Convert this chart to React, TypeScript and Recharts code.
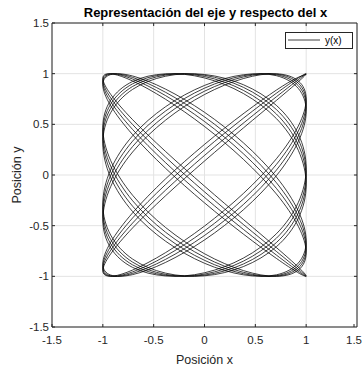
import { ComposedChart, Line, XAxis, YAxis, CartesianGrid, Label, ReferenceLine } from "recharts";

const TICKS = [-1.5, -1, -0.5, 0, 0.5, 1, 1.5];

// Posición x de la trayectoria (muestreo cada 45° de la fase en x)
const posX = [
  1, 0.707, 0, -0.707, -1, -0.707, 0, 0.707,
  1, 0.707, 0, -0.707, -1, -0.707, 0, 0.707,
  1, 0.707, 0, -0.707, -1, -0.707, 0, 0.707,
  1, 0.707, 0, -0.707, -1, -0.707, 0, 0.707,
  1, 0.707, 0, -0.707, -1, -0.707, 0, 0.707,
  1, 0.707, 0, -0.707, -1, -0.707, 0, 0.707,
  1, 0.707, 0, -0.707, -1, -0.707, 0, 0.707,
  1, 0.707, 0, -0.707, -1, -0.707, 0, 0.707,
  1, 0.707, 0, -0.707, -1, -0.707, 0, 0.707,
  1, 0.707, 0, -0.707, -1, -0.707, 0, 0.707,
  1, 0.707, 0, -0.707, -1, -0.707, 0, 0.707,
  1, 0.707, 0, -0.707, -1, -0.707, 0, 0.707,
  1, 0.707, 0, -0.707, -1, -0.707, 0, 0.707,
  1, 0.707, 0, -0.707, -1, -0.707, 0, 0.707,
  1, 0.707, 0, -0.707, -1, -0.707, 0, 0.707,
  1, 0.707, 0, -0.707, -1, -0.707, 0, 0.707,
  1,
];

// Posición y en los mismos instantes
const posY = [
  1, 0.772, 0.193, -0.474, -0.925, -0.956, -0.551, 0.104,
  0.712, 0.996, 0.827, 0.281, -0.392, -0.887, -0.978, -0.624,
  0.014, 0.646, 0.984, 0.874, 0.367, -0.308, -0.842, -0.993,
  -0.692, -0.076, 0.574, 0.963, 0.914, 0.449, -0.221, -0.79,
  -1, -0.754, -0.166, 0.498, 0.935, 0.947, 0.528, -0.132,
  -0.731, -0.998, -0.811, -0.254, 0.418, 0.9, 0.972, 0.602,
  -0.042, -0.667, -0.988, -0.86, -0.34, 0.334, 0.857, 0.989,
  0.672, 0.048, -0.597, -0.971, -0.903, -0.424, 0.248, 0.807,
  0.998, 0.736, 0.138, -0.522, -0.945, -0.938, -0.504, 0.16,
  0.75, 0.999, 0.794, 0.227, -0.443, -0.912, -0.965, -0.58,
  0.07, 0.687, 0.992, 0.845, 0.314, -0.361, -0.871, -0.985,
  -0.651, -0.02, 0.619, 0.977, 0.89, 0.398, -0.275, -0.823,
  -0.996, -0.716, -0.11, 0.546, 0.954, 0.928, 0.479, -0.187,
  -0.768, -1, -0.777, -0.2, 0.468, 0.923, 0.958, 0.557,
  -0.098, -0.708, -0.995, -0.83, -0.287, 0.387, 0.884, 0.98,
  0.629, -0.007, -0.641, -0.983, -0.877, -0.373, 0.302, 0.838,
  0.994,
];

const trayectoria = posX.map((x, i) => ({ x, y: posY[i] }));

const FONT = "'Liberation Sans', Helvetica, Arial, sans-serif";
const INK = "#262626";

const fmt = (v: number) => String(v);

// marcas hacia dentro, estilo MATLAB
function XTick({ x, y, payload }: any) {
  return (
    <g>
      <line x1={x} x2={x} y1={y} y2={y - 3} stroke={INK} />
      <text x={x} y={y + 17} textAnchor="middle" fontSize={11.5} fill={INK} fontFamily={FONT}>
        {fmt(payload.value)}
      </text>
    </g>
  );
}

function YTick({ x, y, payload }: any) {
  return (
    <g>
      <line x1={x} x2={x + 3} y1={y} y2={y} stroke={INK} />
      <text x={x - 3} y={y + 4} textAnchor="end" fontSize={11.5} fill={INK} fontFamily={FONT}>
        {fmt(payload.value)}
      </text>
    </g>
  );
}

function EtiquetaX({ viewBox }: any) {
  const { x, y, width } = viewBox;
  return (
    <text x={x + width / 2} y={y + 36.5} textAnchor="middle" fontSize={12.5} fill={INK} fontFamily={FONT}>
      Posición x
    </text>
  );
}

function EtiquetaY({ viewBox }: any) {
  const { y, height } = viewBox;
  const cy = y + height / 2;
  return (
    <text x={21} y={cy} transform={`rotate(-90, 21, ${cy})`} textAnchor="middle" fontSize={12.5} fill={INK} fontFamily={FONT}>
      Posición y
    </text>
  );
}

export default function App() {
  return (
    <div style={{ position: "absolute", left: 0, top: 0, width: 364, height: 368, background: "#fff" }}>
      <ComposedChart width={364} height={368} margin={{ top: 23, right: 7, bottom: 0, left: 0 }}>
        <CartesianGrid stroke="#e3e3e3" />
        <XAxis
          type="number"
          dataKey="x"
          domain={[-1.5, 1.5]}
          ticks={TICKS}
          height={41}
          tickSize={0}
          tickMargin={0}
          tick={<XTick />}
          axisLine={{ stroke: INK }}
          allowDataOverflow
        >
          <Label content={EtiquetaX as any} />
        </XAxis>
        <YAxis
          type="number"
          dataKey="y"
          domain={[-1.5, 1.5]}
          ticks={TICKS}
          width={52}
          tickSize={0}
          tickMargin={0}
          tick={<YTick />}
          axisLine={{ stroke: INK }}
          allowDataOverflow
        >
          <Label content={EtiquetaY as any} />
        </YAxis>

        {/* caja superior y derecha con sus marcas */}
        <ReferenceLine y={1.5} stroke={INK} />
        <ReferenceLine x={1.5} stroke={INK} />
        {TICKS.slice(1, -1).map((v) => (
          <ReferenceLine key={`t${v}`} segment={[{ x: v, y: 1.5 }, { x: v, y: 1.47 }]} stroke={INK} />
        ))}
        {TICKS.slice(1, -1).map((v) => (
          <ReferenceLine key={`r${v}`} segment={[{ x: 1.5, y: v }, { x: 1.47, y: v }]} stroke={INK} />
        ))}

        <Line
          data={trayectoria}
          dataKey="y"
          type="natural"
          stroke="#000"
          strokeWidth={0.75}
          dot={false}
          isAnimationActive={false}
        />
      </ComposedChart>

      {/* título */}
      <svg
        width={364}
        height={23}
        style={{ position: "absolute", left: 0, top: 0, pointerEvents: "none" }}
      >
        <text x={205.5} y={16.5} textAnchor="middle" fontSize={13} fontWeight="bold" fill="#000" fontFamily={FONT}>
          Representación del eje y respecto del x
        </text>
      </svg>

      {/* leyenda */}
      <div
        style={{
          position: "absolute",
          left: 285,
          top: 32,
          width: 68,
          height: 17,
          boxSizing: "border-box",
          border: `1px solid ${INK}`,
          background: "#fff",
        }}
      >
        <svg width={66} height={15} style={{ display: "block" }}>
          <line x1={2} x2={34} y1={7} y2={7} stroke="#000" strokeWidth={0.75} />
          <text x={39} y={10.5} fontSize={10} fill="#000" fontFamily={FONT}>
            y(x)
          </text>
        </svg>
      </div>
    </div>
  );
}
